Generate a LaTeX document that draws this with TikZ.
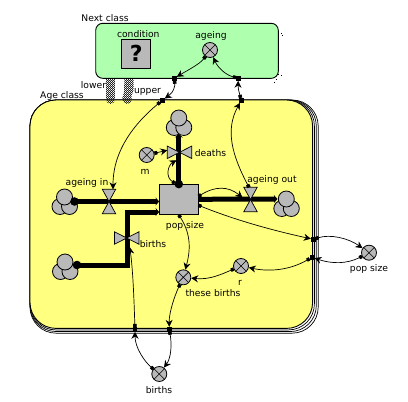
\documentclass[tikz,border=0pt]{standalone}
\usepackage{fontspec}
\setmainfont{DejaVu Sans}
\usetikzlibrary{arrows.meta,calc,patterns}
\definecolor{yel}{HTML}{FFFF80}
\definecolor{grn}{HTML}{AEFFAE}
\definecolor{gry}{HTML}{B9B9B9}
\pgfdeclarepatternformonly{checker}{\pgfpointorigin}{\pgfqpoint{2.4pt}{2.4pt}}{\pgfqpoint{2.4pt}{2.4pt}}{%
  \pgfpathrectangle{\pgfpointorigin}{\pgfqpoint{1.2pt}{1.2pt}}%
  \pgfpathrectangle{\pgfqpoint{1.2pt}{1.2pt}}{\pgfqpoint{1.2pt}{1.2pt}}%
  \pgfusepath{fill}}
\tikzset{
  conv/.style={circle,draw=black,fill=gry,line width=.8pt,minimum size=15pt,inner sep=0pt,
    path picture={\draw[line width=.6pt] (path picture bounding box.north west)--(path picture bounding box.south east)
      (path picture bounding box.north east)--(path picture bounding box.south west);}},
  port/.style={rectangle,fill=black,minimum size=4.5pt,inner sep=0pt},
  lbl/.style={font=\fontsize{9.2}{10}\selectfont,inner sep=0pt,text=black},
  link/.style={line width=.7pt,{Square[length=3pt,width=3.5pt]}-{Stealth[length=7pt,width=7pt]}},
  pipe/.style={line width=5pt,-{Stealth[length=3.5pt,width=8pt]}},
  cloudc/.style={circle,draw=black,fill=gry,line width=.8pt,minimum size=16pt,inner sep=0pt},
  vhold/.style={inner sep=0pt,minimum width=13pt,minimum height=24pt},
  hhold/.style={inner sep=0pt,minimum width=24pt,minimum height=12pt},
  valve/.style={draw=black,fill=gry,line width=.7pt},
  bx/.style={draw=black,line width=.9pt,rounded corners=26pt},
  hatchf/.style={pattern=checker,pattern color=black!85}
}
\newcommand{\vvalve}[3]{\node[vhold] (#1) at (#2,#3) {};
  \draw[valve] (#1.north west)--(#1.north east)--(#1.center)--cycle (#1.south west)--(#1.south east)--(#1.center)--cycle;}
\newcommand{\hvalve}[3]{\node[hhold] (#1) at (#2,#3) {};
  \draw[valve] (#1.north west)--(#1.south west)--(#1.center)--cycle (#1.north east)--(#1.south east)--(#1.center)--cycle;}
\newcommand{\cloudat}[3]{\node[cloudc] (#1l) at (#2-4.5,#3+9.5) {};\node[cloudc] (#1r) at (#2+5,#3+9.5) {};\node[cloudc] (#1) at (#2,#3) {};}
\begin{document}
\begin{tikzpicture}[x=1pt,y=-1pt]
\useasboundingbox (0,0) rectangle (408,402);
% stacked age class
\foreach \k in {5.6,3.7,1.8}{\draw[bx,fill=white,line width=.7pt] (30,100) rectangle (312.6+\k,328.4+\k*.85);}
\draw[bx,fill=yel] (30,100) rectangle (312.6,328.4);
% hatched links
\fill[hatchf] (106,78) -- (115,78) -- (115,99) to[out=-90,in=0] (110.5,104) to[out=180,in=-90] (106,99) -- cycle;
\fill[hatchf] (124.5,78) -- (133.5,78) -- (133.5,90) -- (131.5,96) -- (131.5,100) to[out=-90,in=0] (127,104) to[out=180,in=-60] (122,99) -- (124,92) -- cycle;
% next class
\draw[fill=grn,line width=.9pt,rounded corners=7pt] (95.7,23.3) rectangle (278.3,78.3);
\foreach \p/\q in {280.7/33,282/35,278/74,281/75,274/81.7,276/78.5}{\fill (\p,\q) rectangle ++(1,1);}
\node[lbl] (tnext) at (105,18.5) {Next class};
\node[lbl] (tage) at (62,95.5) {Age class};
\node[lbl] (tlower) at (93.5,85) {lower};
\node[lbl] (tupper) at (147.5,91.5) {upper};
% condition
\node[draw=black,fill=gry,line width=.9pt,minimum size=29pt,inner sep=0pt,font=\bfseries\fontsize{22}{22}\selectfont] (cond) at (136.2,53.8) {?};
\node[lbl] (tcond) at (138.3,34) {condition};
\node[conv] (ageing) at (210,50) {};
\node[lbl] (tageing) at (211,35.5) {ageing};
% clouds
\cloudat{cin}{64.5}{197}
\cloudat{cbirth}{65}{262}
\cloudat{cdeath}{178.8}{118}
\cloudat{cout}{286.3}{199}
% stock anchor
\node[inner sep=0pt,minimum width=39pt,minimum height=30pt] (stock) at (178.8,199.3) {};
% pipes
\draw[pipe] (cin) ++(10,4.5) coordinate (cins) -- (cins -| stock.west);
\draw[pipe] (cbirth) ++(12,3) coordinate (cbs) -- (127,265) -- (127,212) -- (127,212 -| stock.west);
\draw[pipe] (stock.north) -- ($(cdeath)+(0,16)$);
\draw[pipe] (stock.east) -- ($(cout.west)+(-.5,0)$);
\fill (cins) circle (4.3pt);
\fill (cbs) circle (4.3pt);
\fill ($(stock.east)+(1,0)$) circle (2.6pt);
\node[draw=black,fill=gry,line width=.9pt,inner sep=0pt,minimum width=39pt,minimum height=30pt] (stockb) at (178.8,199.3) {};
\fill (stock.north) circle (4.3pt);
% valves
\vvalve{vin}{109}{201.5}
\hvalve{vbirth}{126.7}{238}
\hvalve{vdeath}{179.5}{152.3}
\vvalve{vout}{250.5}{199.5}
\node[lbl] (tin) at (87,183) {ageing in};
\node[lbl] (tbirth) at (153,244.5) {births};
\node[lbl] (tdeath) at (210.5,153.5) {deaths};
\node[lbl] (tout) at (272,180) {ageing out};
\node[lbl] (tstock) at (185,225.5) {pop size};
% converters
\node[conv] (m) at (146.7,155) {};
\node[lbl] (tm) at (145,172) {m};
\node[conv] (popc) at (369,252.7) {};
\node[lbl] (tpopc) at (369,269) {pop size};
\node[conv] (r) at (241,266) {};
\node[lbl] (tr) at (240,283) {r};
\node[conv] (these) at (183.3,277.3) {};
\node[lbl] (tthese) at (213,293) {these births};
\node[conv] (birthc) at (159.3,374) {};
\node[lbl] (tbirthc) at (159,390) {births};
% ports
\node[port] (p1) at (174.3,78.3) {};
\node[port] (p2) at (238.3,78.3) {};
\node[port] (p3) at (162.3,100.3) {};
\node[port] (p4) at (241.3,100.3) {};
\node[port] (e1) at (313.3,239.3) {};
\node[port] (e2) at (312,257.3) {};
\node[port] (b1) at (169.3,329.3) {};
\node[port] (b2) at (135,329.3) {};
% links
\draw[link] (ageing) .. controls (200,64) and (188,70) .. (p1);
\draw[link] (p1) .. controls (175,86) and (174,92) .. (p3);
\draw[link] (p3) .. controls (135,123) and (113,150) .. ($(vin.north)+(4,0)$);
\draw[link] (p4) .. controls (239,92) and (238,88) .. (p2);
\draw[link] (p2) .. controls (226,75) and (218,68) .. (ageing);
\draw[link] ($(vout.north)+(-1.5,0)$) .. controls (232,155) and (225,130) .. (p4);
\draw[link] (m) -- ($(vdeath.west)+(0,-2)$);
\draw[link] ($(stock.north)+(-4,-1)$) .. controls (165,177) and (168,165) .. ($(vdeath.center)+(-3,8)$);
\draw[link] ($(stock.east)+(0,-3)$) .. controls (215,186) and (228,186) .. ($(vout.center)+(-8,-2)$);
\draw[link] ($(stock.east)+(0,6)$) .. controls (240,222) and (280,232) .. (e1);
\draw[link] (e1) .. controls (330,234) and (348,238) .. (popc);
\draw[link] (popc) .. controls (347,264) and (332,264) .. (e2);
\draw[link] (e2) .. controls (290,270) and (270,272) .. (r);
\draw[link] (r) .. controls (222,274) and (210,280) .. (these);
\draw[link] ($(stock.south)+(0,0.5)$) .. controls (192,235) and (190,252) .. (these);
\draw[link] (these) .. controls (175,295) and (169,312) .. (b1);
\draw[link] (b1) .. controls (172,345) and (171,358) .. (birthc);
\draw[link] (birthc) .. controls (145,362) and (135,348) .. (b2);
\draw[link] (b2) .. controls (134,300) and (133,270) .. ($(vbirth.center)+(3,9)$);
\end{tikzpicture}
\end{document}
